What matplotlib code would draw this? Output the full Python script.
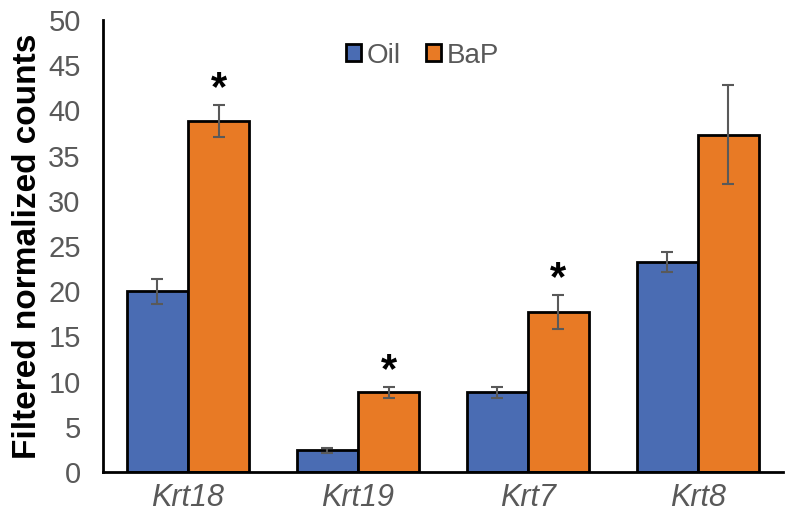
import numpy as np
import matplotlib
matplotlib.use("Agg")
import matplotlib.pyplot as plt

# Keratin counts, Oil vs BaP
genes = ["Krt18", "Krt19", "Krt7", "Krt8"]
oil = [20.0, 2.4, 8.8, 23.2]
oil_err = [1.4, 0.3, 0.6, 1.1]
bap = [38.8, 8.8, 17.7, 37.3]
bap_err = [1.8, 0.6, 1.9, 5.5]
signif = [True, True, True, False]

BLUE = "#4A6CB3"
ORANGE = "#E87A25"
GREY = "#595959"

plt.rcParams["font.family"] = ["Liberation Sans", "DejaVu Sans"]

fig = plt.figure(figsize=(7.86, 5.25), dpi=100)
ax = fig.add_axes([0.131, 0.101, 0.865, 0.861])

x = np.arange(len(genes))
w = 0.36
err_kw = dict(ecolor=GREY, elinewidth=1.5, capsize=4, capthick=1.5)
ax.bar(x - w / 2, oil, w, yerr=oil_err, color=BLUE, edgecolor="black",
       linewidth=2, label="Oil", error_kw=err_kw, zorder=2)
ax.bar(x + w / 2, bap, w, yerr=bap_err, color=ORANGE, edgecolor="black",
       linewidth=2, label="BaP", error_kw=err_kw, zorder=2)

# significance stars above BaP bars
for i, s in enumerate(signif):
    if s:
        ax.annotate("*", (x[i] + w / 2, bap[i] + bap_err[i]), xytext=(0, -3),
                    textcoords="offset points", ha="center", va="bottom",
                    fontsize=30, fontweight="bold", color="black")

ax.set_xlim(-0.5, 3.5)
ax.set_ylim(0, 50)
ax.set_yticks(range(0, 51, 5))
ax.set_xticks(x)
ax.set_xticklabels(genes, fontstyle="italic", fontsize=22)
ax.tick_params(length=0, labelsize=21, labelcolor=GREY)
ax.tick_params(axis="x", labelsize=22, pad=8)
ax.tick_params(axis="y", pad=16)
ax.set_ylabel("Filtered normalized counts", fontsize=24, fontweight="bold",
              labelpad=4)

for side in ["top", "right"]:
    ax.spines[side].set_visible(False)
for side in ["left", "bottom"]:
    ax.spines[side].set_linewidth(2)

leg = ax.legend(loc="upper center", bbox_to_anchor=(0.47, 1.005), ncol=2,
                frameon=False, fontsize=20, handlelength=0.55, handleheight=0.55,
                handletextpad=0.2, columnspacing=0.9)
for t in leg.get_texts():
    t.set_color(GREY)
for p in leg.get_patches():
    p.set_linewidth(2)

fig.savefig("out.png", dpi=100)
